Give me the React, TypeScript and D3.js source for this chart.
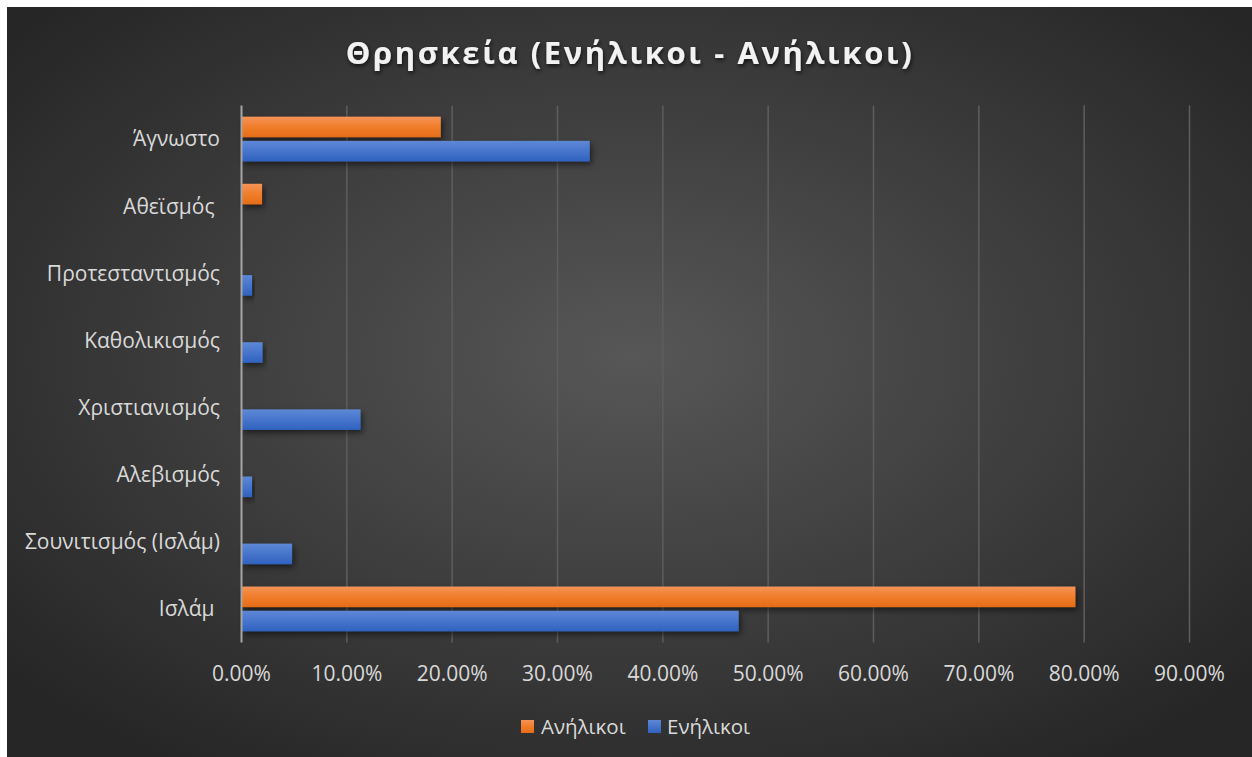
import { useEffect, useRef } from 'react'
import * as d3 from 'd3'

const categories = ['Άγνωστο', 'Αθεϊσμός ', 'Προτεσταντισμός', 'Καθολικισμός', 'Χριστιανισμός', 'Αλεβισμός', 'Σουνιτισμός (Ισλάμ)', 'Ισλάμ ']
const minors = [0.1892, 0.0195, 0, 0, 0, 0, 0, 0.7917]
const adults = [0.3306, 0, 0.01, 0.02, 0.113, 0.01, 0.048, 0.472]
const xTicks = [0, 0.1, 0.2, 0.3, 0.4, 0.5, 0.6, 0.7, 0.8, 0.9]
const seriesNames = ['Ανήλικοι', 'Ενήλικοι']

export default function App() {
  const svgRef = useRef<SVGSVGElement>(null)

  useEffect(() => {
    document.body.style.margin = '0'
    document.body.style.overflow = 'hidden'

    const width = 1252
    const height = 757
    const font = '"Open Sans", "Noto Sans", sans-serif'

    const svg = d3.select(svgRef.current)
      .attr('width', width)
      .attr('height', height)
    svg.selectAll('*').remove()

    const defs = svg.append('defs')
    const bg = defs.append('radialGradient').attr('id', 'bg')
      .attr('cx', '50%').attr('cy', '46%').attr('r', '65%')
    bg.append('stop').attr('offset', '0%').attr('stop-color', '#575757')
    bg.append('stop').attr('offset', '100%').attr('stop-color', '#262626')

    const grad = (id: string, top: string, mid: string, bot: string) => {
      const g = defs.append('linearGradient').attr('id', id)
        .attr('x1', 0).attr('y1', 0).attr('x2', 0).attr('y2', 1)
      g.append('stop').attr('offset', '0%').attr('stop-color', top)
      g.append('stop').attr('offset', '50%').attr('stop-color', mid)
      g.append('stop').attr('offset', '100%').attr('stop-color', bot)
    }
    grad('gOrange', '#f59358', '#f07d2a', '#e56c17')
    grad('gBlue', '#5e88d6', '#4775cc', '#2f62be')

    const shadow = defs.append('filter').attr('id', 'shadow')
      .attr('x', '-10%').attr('y', '-30%').attr('width', '130%').attr('height', '190%')
    shadow.append('feDropShadow').attr('dx', 2).attr('dy', 3).attr('stdDeviation', 3)
      .attr('flood-color', '#000').attr('flood-opacity', 0.55)

    const tshadow = defs.append('filter').attr('id', 'tshadow')
    tshadow.append('feDropShadow').attr('dx', 1).attr('dy', 2).attr('stdDeviation', 2)
      .attr('flood-color', '#000').attr('flood-opacity', 0.7)

    svg.append('rect').attr('width', width).attr('height', height).attr('fill', 'url(#bg)')

    const left = 234.5
    const right = 1182.5
    const top = 98.5
    const bottom = 635.5

    const x = d3.scaleLinear().domain([0, 0.9]).range([left, right])
    const y = d3.scaleBand().domain(categories).range([top, bottom]).paddingInner(0.333).paddingOuter(0.1665)
    const sub = d3.scaleBand().domain(seriesNames).range([0, y.bandwidth()]).paddingInner(0.15)

    // title
    svg.append('text')
      .attr('x', 623).attr('y', 57)
      .attr('text-anchor', 'middle')
      .attr('fill', '#f2f2f2')
      .attr('font-family', font)
      .attr('font-weight', 700)
      .attr('font-size', 31)
      .attr('letter-spacing', 2.6)
      .attr('filter', 'url(#tshadow)')
      .text('Θρησκεία (Ενήλικοι - Ανήλικοι)')

    // gridlines
    svg.append('g').selectAll('line')
      .data(xTicks.slice(1))
      .join('line')
      .attr('x1', d => x(d)).attr('x2', d => x(d))
      .attr('y1', top).attr('y2', bottom)
      .attr('stroke', '#5e5e5e').attr('stroke-width', 1.5)

    const colors = ['url(#gOrange)', 'url(#gBlue)']
    const series = [minors, adults]

    series.forEach((vals, si) => {
      svg.append('g').selectAll('rect')
        .data(categories.map((c, i) => ({ c, v: vals[i] })).filter(d => d.v > 0))
        .join('rect')
        .attr('x', x(0))
        .attr('y', d => (y(d.c) as number) + (sub(seriesNames[si]) as number))
        .attr('width', d => x(d.v) - x(0))
        .attr('height', sub.bandwidth())
        .attr('fill', colors[si])
        .attr('filter', 'url(#shadow)')
    })

    // vertical axis line
    svg.append('line')
      .attr('x1', left).attr('x2', left)
      .attr('y1', top).attr('y2', bottom)
      .attr('stroke', '#a6a6a6').attr('stroke-width', 2)

    // category labels
    svg.append('g').selectAll('text')
      .data(categories)
      .join('text')
      .attr('x', 213)
      .attr('y', d => (y(d) as number) + y.bandwidth() / 2)
      .attr('dy', '0.35em')
      .attr('text-anchor', 'end')
      .attr('fill', '#d9d9d9')
      .attr('font-family', font)
      .attr('font-size', 21)
      .style('white-space', 'pre')
      .text(d => d)

    // x tick labels
    svg.append('g').selectAll('text')
      .data(xTicks)
      .join('text')
      .attr('x', d => x(d))
      .attr('y', 674)
      .attr('text-anchor', 'middle')
      .attr('fill', '#d9d9d9')
      .attr('font-family', font)
      .attr('font-size', 21)
      .text(d => d3.format('.2%')(d))

    // legend
    const legendItems = [
      { name: seriesNames[0], fill: colors[0], sx: 514, tx: 534 },
      { name: seriesNames[1], fill: colors[1], sx: 641, tx: 660 }
    ]
    const lg = svg.append('g')
    lg.selectAll('rect')
      .data(legendItems)
      .join('rect')
      .attr('x', d => d.sx).attr('y', 713)
      .attr('width', 13).attr('height', 13)
      .attr('fill', d => d.fill)
    lg.selectAll('text')
      .data(legendItems)
      .join('text')
      .attr('x', d => d.tx).attr('y', 720)
      .attr('dy', '0.35em')
      .attr('fill', '#d9d9d9')
      .attr('font-family', font)
      .attr('font-size', 20.5)
      .text(d => d.name)
  }, [])

  return (
    <div style={{ background: '#fff', width: 1252, height: 757, overflow: 'hidden', position: 'relative' }}>
      <svg ref={svgRef} style={{ display: 'block', position: 'absolute', left: 7, top: 7 }}></svg>
    </div>
  )
}
